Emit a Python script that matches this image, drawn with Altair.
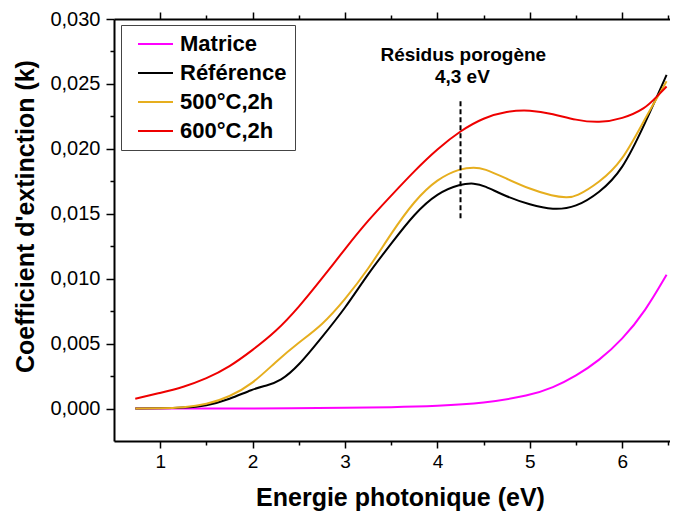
import altair as alt
import pandas as pd

series_names = ["Matrice", "Référence", "500°C,2h", "600°C,2h"]
series_colors = ["#FF00FF", "#000000", "#E6AE1E", "#EE0000"]

x_matrice = [0.73, 1.5, 2.5, 3.0, 3.5, 4.0, 4.5, 5.0, 5.25, 5.5, 5.75, 6.0, 6.25, 6.48]
y_matrice = [0.0, 0.0, 0.00002, 0.00005, 0.0001, 0.0002, 0.0004, 0.0010, 0.0016, 0.0025, 0.0037, 0.0053, 0.0075, 0.0103]

x_ref = [0.73, 1.0, 1.25, 1.5, 1.75, 2.0, 2.15, 2.3, 2.5, 2.75, 3.0, 3.25, 3.5, 3.75, 4.0, 4.25, 4.4, 4.5, 4.75, 5.0, 5.25, 5.5, 5.75, 6.0, 6.25, 6.48]
y_ref = [0.0, 0.00002, 0.00006, 0.0002, 0.0007, 0.0015, 0.00177, 0.0021, 0.0033, 0.0055, 0.0077, 0.0104, 0.0127, 0.0150, 0.0166, 0.0173, 0.01735, 0.0172, 0.0163, 0.0157, 0.01528, 0.0155, 0.0166, 0.0183, 0.0220, 0.0257]

x_500 = [0.73, 1.0, 1.25, 1.5, 1.75, 2.0, 2.25, 2.5, 2.75, 3.0, 3.25, 3.5, 3.75, 4.0, 4.25, 4.4, 4.5, 4.75, 5.0, 5.25, 5.4, 5.5, 5.75, 6.0, 6.25, 6.48]
y_500 = [0.0, 0.00002, 0.00008, 0.0003, 0.0009, 0.0019, 0.0036, 0.0051, 0.0064, 0.0084, 0.0107, 0.0135, 0.0160, 0.0177, 0.0185, 0.01858, 0.0185, 0.0177, 0.0169, 0.01635, 0.01625, 0.0163, 0.0174, 0.0190, 0.0224, 0.0252]

x_600 = [0.73, 1.0, 1.25, 1.5, 1.75, 2.0, 2.25, 2.5, 2.75, 3.0, 3.25, 3.5, 3.75, 4.0, 4.25, 4.5, 4.75, 5.0, 5.25, 5.5, 5.75, 6.0, 6.25, 6.37, 6.48]
y_600 = [0.00075, 0.0012, 0.00165, 0.0023, 0.0032, 0.0045, 0.0059, 0.0078, 0.0100, 0.0123, 0.0145, 0.0164, 0.0183, 0.0200, 0.0214, 0.0224, 0.0229, 0.0230, 0.0227, 0.0222, 0.0220, 0.0223, 0.0231, 0.0240, 0.0248]

x_ticks = [1, 1.5, 2, 2.5, 3, 3.5, 4, 4.5, 5, 5.5, 6, 6.5]
y_ticks = [0.0, 0.0025, 0.005, 0.0075, 0.01, 0.0125, 0.015, 0.0175, 0.02, 0.0225, 0.025, 0.0275, 0.03]

annot_lines = ["Résidus porogène", "4,3 eV"]
annot_x = [4.28, 4.27]
annot_y = [0.02676, 0.02506]
marker_x = [4.25]
marker_y = [0.01465]
marker_y2 = [0.02375]

rows = []
for name, xs, ys in [
    (series_names[0], x_matrice, y_matrice),
    (series_names[1], x_ref, y_ref),
    (series_names[2], x_500, y_500),
    (series_names[3], x_600, y_600),
]:
    for a, b in zip(xs, ys):
        rows.append({"serie": name, "E": a, "k": b, "ordre": series_names.index(name)})
df = pd.DataFrame(rows)

FONT = "Liberation Sans"
xscale = alt.Scale(domain=[0.5, 6.517], nice=False, zero=False)
yscale = alt.Scale(domain=[-0.0025, 0.0300], nice=False, zero=False)

x_tick_size = {"condition": {"test": "datum.value % 1 === 0", "value": 7}, "value": 4}
y_tick_size = {"condition": {"test": "abs(round(datum.value * 10000)) % 50 === 0", "value": 8}, "value": 4}

lines = alt.Chart(df).mark_line(strokeWidth=2, interpolate="basis").encode(
    x=alt.X("E:Q", scale=xscale,
            axis=alt.Axis(orient="bottom", values=x_ticks, tickSize=x_tick_size,
                          labelExpr="datum.value % 1 === 0 ? format(datum.value, 'd') : ''",
                          labelOverlap=False, labelFlush=False, labelPadding=4,
                          title="Energie photonique (eV)", titlePadding=14, titleFontSize=25,
                          titleX=286)),
    y=alt.Y("k:Q", scale=yscale,
            axis=alt.Axis(orient="left", values=y_ticks, tickSize=y_tick_size,
                          labelExpr="abs(round(datum.value * 10000)) % 50 === 0 ? replace(format(datum.value, '.3f'), '.', ',') : ''",
                          labelOverlap=False, labelFlush=False, labelPadding=6, labelFontSize=20,
                          title="Coefficient d'extinction (k)", titlePadding=11, titleFontSize=25,
                          titleY=197)),
    color=alt.Color("serie:N", scale=alt.Scale(domain=series_names, range=series_colors),
                    legend=alt.Legend(title=None, orient="none", legendX=7, legendY=6,
                                      symbolType="stroke", symbolSize=1225, symbolStrokeWidth=2,
                                      clipHeight=22, rowPadding=7, labelFontSize=22,
                                      labelFontWeight="bold", labelFont=FONT, labelColor="black",
                                      padding=8, strokeColor="#444444", fillColor="white",
                                      symbolOffset=8, labelOffset=6)),
    order=alt.Order("ordre:Q"),
    detail="serie:N",
)

rule_df = pd.DataFrame({"E": marker_x, "k": marker_y, "k2": marker_y2})
rule = alt.Chart(rule_df).mark_rule(strokeDash=[5, 3], strokeWidth=2, color="black").encode(
    x=alt.X("E:Q", scale=xscale,
            axis=alt.Axis(orient="top", values=x_ticks, tickSize=x_tick_size,
                          labels=False, title=None)),
    y=alt.Y("k:Q", scale=yscale, axis=None),
    y2="k2:Q",
)

text_df = pd.DataFrame({"E": annot_x, "k": annot_y, "t": annot_lines})
text = alt.Chart(text_df).mark_text(font=FONT, fontSize=19, fontWeight="bold", color="black",
                                    align="center", baseline="alphabetic").encode(
    x=alt.X("E:Q", scale=xscale, axis=None),
    y=alt.Y("k:Q", scale=yscale, axis=None),
    text="t:N",
)

chart = alt.layer(lines, rule, text).resolve_axis(x="independent", y="independent").properties(
    width=556, height=422,
    autosize=alt.AutoSizeParams(type="none"),
    padding={"left": 106, "top": 11, "right": 0, "bottom": 72},
).configure_view(stroke=None).configure_axis(
    domainColor="black", domainWidth=2, tickColor="black", tickWidth=1.5,
    labelFont=FONT, labelFontSize=19, labelColor="black",
    titleFont=FONT, titleFontSize=24, titleFontWeight="bold", titleColor="black",
    grid=False,
)

chart.save("out.html", embed_options={"renderer": "svg", "actions": False})
